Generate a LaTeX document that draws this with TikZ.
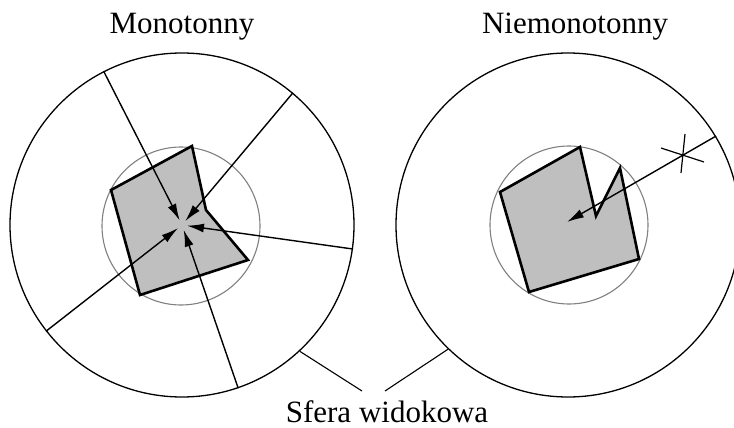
\documentclass[tikz,border=0pt]{standalone}
\usepackage{fontspec}
\setmainfont{Liberation Serif}
\usetikzlibrary{arrows.meta}

\begin{document}
\begin{tikzpicture}[x=1pt,y=-1pt,>={Latex[length=17pt,width=9pt]}]
\tikzstyle{sphere}=[draw,circle,line width=1.3pt,minimum size=344pt,inner sep=0pt]
\tikzstyle{hull}=[draw=gray,circle,line width=1.1pt,minimum size=158pt,inner sep=0pt]
\tikzstyle{object}=[draw,fill=black!25,line width=2.6pt]
\tikzstyle{ray}=[->,line width=1.4pt,shorten >=5pt]
\tikzstyle{title}=[anchor=base,inner sep=0pt,font=\fontsize{31}{36}\selectfont]
\useasboundingbox (0,0) rectangle (734,428);

% monotonny
\node[sphere] (outerL) at (182,225) {};
\node[hull] (hullL) at (181,226) {};
\coordinate (cL) at (182,225);
\draw[object] (192,146) -- (206,210) -- (248,260) -- (140,295) -- (111,190) -- cycle;
\foreach \a in {117,50,-8,-71,-142}
  \draw[ray] (outerL.\a) -- (cL);

% niemonotonny
\node[sphere] (outerR) at (568,225) {};
\node[hull] (hullR) at (569,225) {};
\coordinate (tipR) at (567,222);
\coordinate (miss) at (683,154);
\draw[object] (580,147) -- (596,216) -- (620,168) -- (639,259) -- (529,292) -- (500,192) -- cycle;
\draw[ray,shorten >=0pt] (outerR.31) -- (tipR);
\draw[line width=1.2pt] ([shift={(-22,-6)}]miss) -- ([shift={(21,8)}]miss);
\draw[line width=1.2pt] ([shift={(2,-20)}]miss) -- ([shift={(-2,19)}]miss);

% podpisy
\node[title] (monL) at (182,34) {Monotonny};
\node[title] (monR) at (575,34) {Niemonotonny};
\node[title] (sfera) at (387,422) {Sfera widokowa};
\coordinate (lblL) at (362,391);
\coordinate (lblR) at (385,391);
\draw[line width=1.1pt] (outerL.-47) -- (lblL);
\draw[line width=1.1pt] (outerR.-134) -- (lblR);
\end{tikzpicture}
\end{document}
